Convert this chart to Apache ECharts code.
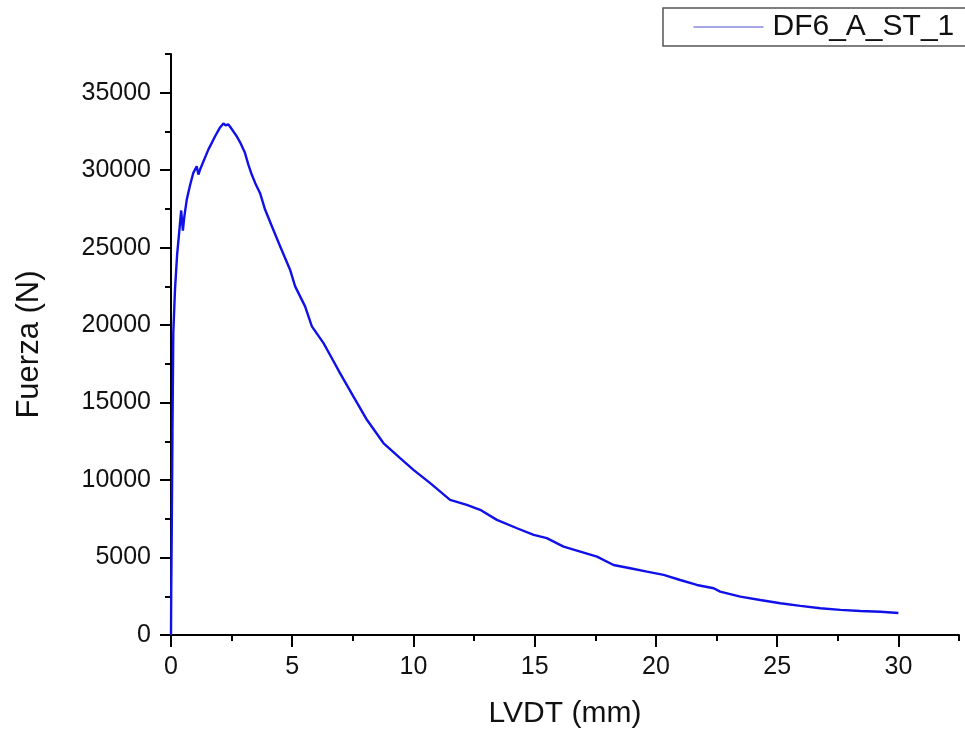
<!DOCTYPE html>
<html>
<head>
<meta charset="utf-8">
<title>DF6_A_ST_1</title>
<script src="https://cdn.jsdelivr.net/npm/echarts@6/dist/echarts.min.js"></script>
<style>
  html, body { margin: 0; padding: 0; background: #fff; }
  #chart { width: 965px; height: 731px; }
</style>
</head>
<body>
<div id="chart"></div>
<script>
// Load–displacement record of specimen DF6_A_ST_1
const seriesName = 'DF6_A_ST_1';
const lvdt = [
  0, 0.01, 0.03, 0.06, 0.095, 0.165, 0.25, 0.35, 0.42, 0.49, 0.55, 0.65, 0.78, 0.92,
  1.06, 1.13, 1.2, 1.54, 1.82, 2.0, 2.16, 2.25, 2.37, 2.57, 2.71, 2.85, 3.05, 3.19,
  3.26, 3.33, 3.47, 3.67, 3.88, 4.16, 4.5, 4.91, 5.12, 5.53, 5.81, 6.29, 6.63, 6.97,
  7.52, 8.08, 8.76, 9.45, 10.0, 10.69, 11.51, 12.2, 12.75, 13.44, 14.27, 14.96, 15.5,
  16.19, 16.88, 17.57, 18.25, 18.94, 19.63, 20.32, 21.0, 21.69, 22.38, 22.65, 23.48,
  24.3, 25.13, 25.96, 26.78, 27.61, 28.43, 29.26, 30.0
];
const fuerza = [
  0, 3000, 6600, 13000, 19500, 22300, 24500, 26200, 27400, 26100, 27000, 28100, 29000, 29830,
  30250, 29720, 30040, 31330, 32190, 32700, 33010, 32900, 32950, 32510, 32190, 31800, 31120, 30360,
  30040, 29720, 29180, 28530, 27460, 26380, 25090, 23580, 22500, 21210, 19920, 18840, 17880, 16900,
  15400, 13890, 12390, 11420, 10660, 9800, 8720, 8400, 8080, 7430, 6890, 6460, 6250,
  5700, 5380, 5060, 4520, 4310, 4090, 3880, 3550, 3230, 3020, 2800, 2480,
  2260, 2050, 1880, 1730, 1620, 1550, 1505, 1420
];
const xMajorTicks = [0, 5, 10, 15, 20, 25, 30];
const yMajorTicks = [0, 5000, 10000, 15000, 20000, 25000, 30000, 35000];

const points = lvdt.map((x, i) => [x, fuerza[i]]);
const font = '"Liberation Sans", Arial, sans-serif';
const black = '#000';
const plain = v => String(v);

const chart = echarts.init(document.getElementById('chart'), null, { renderer: 'canvas' });
chart.setOption({
  backgroundColor: '#fff',
  animation: false,
  grid: { left: 171, right: 6, top: 54, bottom: 96, containLabel: false, outerBoundsMode: 'none' },
  legend: {
    left: 663, top: 8,
    padding: [4, 40, 4, 30],
    itemWidth: 70, itemHeight: 14,
    borderColor: '#555', borderWidth: 1.5,
    itemStyle: { opacity: 0 },
    lineStyle: { width: 1, color: '#4a4ad0' },
    textStyle: { fontFamily: font, fontSize: 30, color: '#111', padding: [0, 0, 0, 4] },
    data: [seriesName]
  },
  xAxis: [
    {
      // major ticks and labels
      type: 'value', min: 0, max: 32.5, interval: 2.5, position: 'bottom',
      name: 'LVDT (mm)', nameLocation: 'middle', nameGap: 64,
      nameTextStyle: { fontFamily: font, fontSize: 30, color: '#111' },
      axisLine: { show: true, onZero: false, lineStyle: { color: black, width: 2 } },
      axisTick: { show: true, customValues: xMajorTicks, length: 12, lineStyle: { color: black, width: 2 } },
      axisLabel: { customValues: xMajorTicks, formatter: plain, margin: 20, fontFamily: font, fontSize: 25, color: '#111' },
      splitLine: { show: false }
    },
    {
      // every 2.5 mm short tick
      type: 'value', min: 0, max: 32.5, interval: 2.5, position: 'bottom',
      axisLine: { show: false, onZero: false },
      axisTick: { show: true, length: 6, lineStyle: { color: black, width: 2 } },
      axisLabel: { show: false },
      splitLine: { show: false }
    }
  ],
  yAxis: [
    {
      type: 'value', min: 0, max: 37500, interval: 2500, position: 'left',
      name: 'Fuerza (N)', nameLocation: 'middle', nameGap: 126,
      nameTextStyle: { fontFamily: font, fontSize: 31, color: '#111' },
      axisLine: { show: true, onZero: false, lineStyle: { color: black, width: 2 } },
      axisTick: { show: true, customValues: yMajorTicks, length: 11, lineStyle: { color: black, width: 2 } },
      axisLabel: { customValues: yMajorTicks, formatter: plain, margin: 20, fontFamily: font, fontSize: 25, color: '#111' },
      splitLine: { show: false }
    },
    {
      type: 'value', min: 0, max: 37500, interval: 2500, position: 'left',
      axisLine: { show: false, onZero: false },
      axisTick: { show: true, length: 6, lineStyle: { color: black, width: 2 } },
      axisLabel: { show: false },
      splitLine: { show: false }
    }
  ],
  series: [
    {
      name: seriesName,
      type: 'line',
      xAxisIndex: 0, yAxisIndex: 0,
      data: points,
      showSymbol: false, symbol: 'none',
      lineStyle: { color: '#1010e8', width: 2.4 },
      itemStyle: { color: '#1010e8' }
    },
    {
      // same record on the secondary (short-tick) axes, kept invisible so those axes are populated
      name: 'ticks',
      type: 'line',
      xAxisIndex: 1, yAxisIndex: 1,
      data: points,
      showSymbol: false, symbol: 'none', silent: true,
      lineStyle: { opacity: 0 },
      itemStyle: { opacity: 0 },
      z: 0
    }
  ]
});
</script>
</body>
</html>
